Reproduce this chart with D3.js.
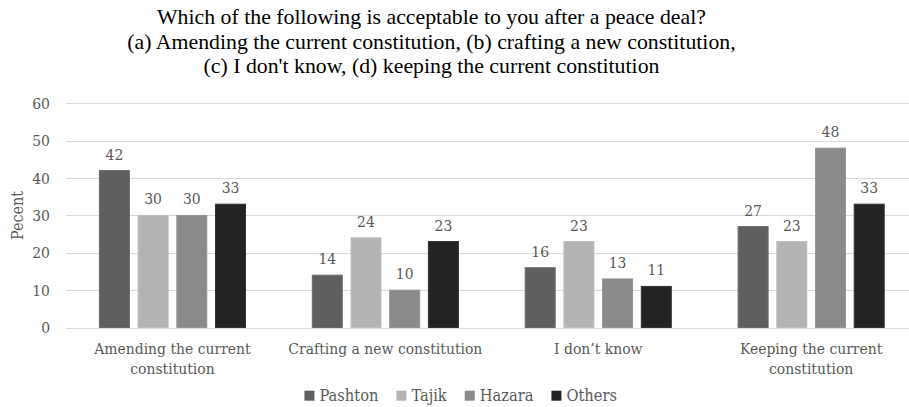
<!DOCTYPE html>
<html>
<head>
<meta charset="utf-8">
<script src="https://cdn.jsdelivr.net/npm/d3@7/dist/d3.min.js"></script>
<style>
  html, body { margin: 0; padding: 0; background: #fff; }
  svg { display: block; }
  .lab { font-family: "DejaVu Serif Condensed", "DejaVu Serif", serif; font-stretch: condensed; fill: #595959; }
  .title { font-family: "Liberation Serif", "Times New Roman", serif; fill: #000; }
</style>
</head>
<body>
<svg id="chart" width="909" height="407"></svg>
<script>
// Survey responses by ethnic group (percent)
const titleLines = [
  "Which of the following is acceptable to you after a peace deal?",
  "(a) Amending the current constitution, (b) crafting a new constitution,",
  "(c) I don't know, (d) keeping the current constitution"
];
const categories = [
  "Amending the current constitution",
  "Crafting a new constitution",
  "I don\u2019t know",
  "Keeping the current constitution"
];
const seriesNames = ["Pashton", "Tajik", "Hazara", "Others"];
const pashton = [42, 14, 16, 27];
const tajik   = [30, 24, 23, 23];
const hazara  = [30, 10, 13, 48];
const others  = [33, 23, 11, 33];
const yTicks = [0, 10, 20, 30, 40, 50, 60];
const yAxisLabel = "Pecent";

const seriesValues = [pashton, tajik, hazara, others];
const colors = ["#5f5f5f", "#b3b3b3", "#8a8a8a", "#232323"];
const strokes = ["#6b6b6b", "#bdbdbd", "#969696", "#333333"];

const svg = d3.select("#chart");
const W = 909;

const plot = { left: 66, top: 103.3, bottom: 327.5, right: 917.6 };

const y = d3.scaleLinear().domain([0, 60]).range([plot.bottom, plot.top]);
const x0 = d3.scaleBand().domain(categories).range([plot.left, plot.right]).paddingInner(0).paddingOuter(0);
const x1 = d3.scaleBand().domain(seriesNames).range([0, x0.bandwidth()]).paddingInner(0.225).paddingOuter(0.863);

// Title
svg.append("g").selectAll("text").data(titleLines).join("text")
  .attr("class", "title")
  .attr("font-family", "'Liberation Serif', 'Times New Roman', serif")
  .attr("x", 431.5)
  .attr("y", (d, i) => 24 + i * 24.5)
  .attr("text-anchor", "middle")
  .attr("font-size", 21.8)
  .text(d => d);

// Gridlines
const yAxis = d3.axisLeft(y).tickValues(yTicks).tickSize(-(W - plot.left)).tickPadding(16).tickFormat(d3.format("d"));
const gy = svg.append("g").attr("transform", `translate(${plot.left},0)`).call(yAxis);
gy.select(".domain").remove();
gy.selectAll(".tick line").attr("stroke", "#d9d9d9").attr("stroke-width", 1)
  .attr("shape-rendering", "crispEdges");
gy.selectAll(".tick text").attr("class", "lab").attr("font-size", 15.5).attr("fill", "#595959");

// Y axis title
svg.append("text")
  .attr("class", "lab")
  .attr("transform", `translate(23,${(plot.top + plot.bottom) / 2}) rotate(-90)`)
  .attr("text-anchor", "middle")
  .attr("font-size", 16)
  .text(yAxisLabel);

// Bars
const groups = svg.append("g").selectAll("g").data(categories).join("g")
  .attr("transform", d => `translate(${x0(d)},0)`);

groups.selectAll("rect")
  .data((c, ci) => seriesNames.map((s, si) => ({ s, si, v: seriesValues[si][ci] })))
  .join("rect")
  .attr("x", d => x1(d.s))
  .attr("width", x1.bandwidth())
  .attr("y", d => y(d.v))
  .attr("height", d => y(0) - y(d.v))
  .attr("fill", d => colors[d.si])
  .attr("stroke", d => strokes[d.si])
  .attr("stroke-width", 1);

// Value labels
groups.selectAll("text.val")
  .data((c, ci) => seriesNames.map((s, si) => ({ s, si, v: seriesValues[si][ci] })))
  .join("text")
  .attr("class", "val lab")
  .attr("x", d => x1(d.s) + x1.bandwidth() / 2)
  .attr("y", d => y(d.v) - 11)
  .attr("text-anchor", "middle")
  .attr("font-size", 15.5)
  .text(d => d3.format("d")(d.v));

// Category labels, wrapped to fit the band
const xl = svg.append("g").selectAll("text").data(categories).join("text")
  .attr("class", "lab")
  .attr("text-anchor", "middle")
  .attr("font-size", 15.5)
  .attr("x", d => x0(d) + x0.bandwidth() / 2)
  .attr("y", 354.3);

xl.each(function (d) {
  const t = d3.select(this);
  const words = d.split(" ");
  const maxW = 196;
  let lines = [], line = [];
  const probe = t.append("tspan");
  words.forEach(w => {
    const trial = line.concat(w).join(" ");
    probe.text(trial);
    if (probe.node().getComputedTextLength() > maxW && line.length) {
      lines.push(line.join(" "));
      line = [w];
    } else {
      line.push(w);
    }
  });
  lines.push(line.join(" "));
  probe.remove();
  const cx = t.attr("x");
  lines.forEach((l, i) => {
    t.append("tspan").attr("x", cx).attr("dy", i === 0 ? 0 : 20).text(l);
  });
});

// Legend
const legend = svg.append("g");
const items = legend.selectAll("g").data(seriesNames).join("g");
items.append("rect").attr("width", 10).attr("height", 10).attr("y", 390.7)
  .attr("fill", (d, i) => colors[i]);
items.append("text").attr("class", "lab").attr("font-size", 16.3)
  .attr("x", 15).attr("y", 400.7).text(d => d);
let lx = 0;
const offsets = [];
items.each(function () {
  const tw = d3.select(this).select("text").node().getComputedTextLength();
  offsets.push(lx);
  lx += 15 + tw + 18;
});
const totalW = lx - 18;
const startX = 460.7 - totalW / 2;
items.attr("transform", (d, i) => `translate(${startX + offsets[i]},0)`);
</script>
</body>
</html>
